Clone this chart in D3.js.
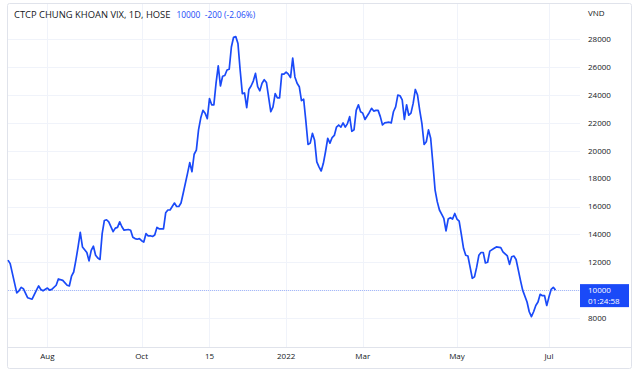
<!DOCTYPE html>
<html>
<head>
<meta charset="utf-8">
<style>
  body { margin: 0; background: #fff; }
  svg text { font-family: "Open Sans", "Liberation Sans", sans-serif; }
  .grid line { stroke: #f0f3fa; stroke-width: 1; }
  .axis-label { fill: #131722; font-size: 8px; }
</style>
</head>
<body>
<script src="https://cdn.jsdelivr.net/npm/d3@7"></script>
<script>
  // trading-day index (0 = first bar, early Jul 2021) and close price, VND
  var dayIdx = [0, 1, 2, 4, 5, 6, 7, 9, 10, 11, 13, 14, 15, 16, 18, 19, 20, 22, 23, 25,
    27, 28, 29, 30, 31, 32, 33, 34, 36, 37, 38, 39, 40, 41, 42, 43, 44, 45, 46, 48,
    49, 50, 51, 52, 53, 55, 56, 57, 58, 59, 60, 61, 62, 63, 64, 65, 66, 67, 68, 69,
    71, 72, 73, 74, 76, 77, 78, 79, 80, 82, 83, 84, 85, 86, 87, 88, 89, 90, 91, 92,
    93, 94, 95, 96, 97, 98, 99, 100, 101, 102, 103, 104, 105, 106, 107, 108, 109, 110, 111, 112,
    113, 114, 115, 116, 117, 118, 120, 121, 122, 123, 124, 125, 126, 127, 128, 129, 130, 131, 132, 133,
    134, 135, 136, 137, 138, 139, 140, 141, 142, 143, 144, 145, 146, 147, 148, 149, 150, 151, 152, 153,
    154, 155, 156, 157, 158, 159, 160, 161, 162, 163, 165, 166, 167, 168, 169, 170, 171, 172, 174, 175,
    176, 177, 178, 179, 180, 181, 182, 183, 184, 185, 186, 187, 188, 189, 190, 191, 192, 193, 194, 195,
    196, 197, 198, 199, 200, 201, 202, 203, 204, 205, 206, 207, 208, 209, 210, 211, 212, 213, 214, 215,
    216, 217, 218, 219, 220, 222, 223, 225, 226, 228, 229, 230, 231, 232, 233, 234, 235, 237, 238, 239,
    240, 241, 242, 243, 244, 245, 246, 247, 248, 249, 250];
  var price = [12150, 11900, 11200, 9800, 9950, 10200, 10100, 9450, 9400, 9350, 10000, 10300, 10050, 9950, 10150, 10000, 10050, 10350, 10800, 10700,
    10350, 10300, 11000, 11300, 12150, 13100, 14150, 13100, 12700, 12100, 12850, 13150, 12500, 12300, 12200, 14050, 15000, 15050, 14900, 14200,
    14450, 14500, 14900, 14550, 14300, 14350, 14300, 13800, 13700, 13650, 13700, 13550, 13450, 14050, 13900, 13900, 13850, 13950, 14500, 14400,
    14400, 15550, 15750, 15750, 16250, 16000, 16000, 16250, 16950, 18400, 19150, 18500, 19750, 20050, 21500, 22350, 22900, 22700, 22300, 23750,
    23300, 23300, 24850, 26100, 24650, 25350, 25400, 25800, 25850, 27450, 28150, 28200, 27700, 25800, 24100, 24150, 23100, 24400, 24650, 25000,
    25550, 24600, 24300, 24850, 25100, 24900, 22800, 23150, 24100, 23800, 23800, 25500, 25500, 25650, 25500, 25250, 26650, 25300, 24850, 24600,
    23600, 23700, 22150, 20450, 20550, 21250, 20750, 19200, 18850, 18550, 19100, 19950, 20900, 20550, 20950, 21100, 21700, 21850, 21700, 22000,
    21700, 21950, 22450, 21400, 21500, 22900, 23300, 22800, 22700, 22250, 22750, 23050, 22850, 22900, 22900, 22450, 21850, 22000, 22050, 22000,
    22800, 23150, 24000, 23950, 23650, 22250, 23300, 22550, 22700, 23400, 24400, 24000, 22900, 21950, 20450, 20650, 21500, 20900, 19100, 17200,
    16350, 15750, 15450, 15150, 14250, 15100, 15200, 15100, 15500, 15100, 14950, 14000, 13000, 12500, 12450, 11650, 10850, 10950, 11650, 12500,
    12700, 12700, 11950, 12000, 12800, 13000, 13100, 13050, 12750, 12450, 11850, 12400, 12450, 12200, 11450, 10700, 10000, 9150, 8450, 8100,
    8450, 8900, 9150, 9700, 9600, 9600, 8900, 9500, 10050, 10200, 10000];

  var xTickIdx = [18, 61, 92, 127, 162, 205, 247];
  var xTickLabels = ["Aug", "Oct", "15", "2022", "Mar", "May", "Jul"];
  var yTicks = [8000, 10000, 12000, 14000, 16000, 18000, 20000, 22000, 24000, 26000, 28000];

  var title = "CTCP CHUNG KHOAN VIX, 1D, HOSE";
  var lastInfo = "10000\u00a0\u00a0-200 (-2.06%)";
  var lastPrice = 10000;
  var countdown = "01:24:58";

  var width = 639, height = 375;
  var plot = { left: 7, top: 3, right: 580, bottom: 347 };
  var blue = "#1a4af8";

  var svg = d3.select("body").append("svg")
      .attr("width", width)
      .attr("height", height);

  var x = d3.scaleLinear().domain([0, 261]).range([8, 579.6]);
  var y = d3.scaleLinear().domain([8000, 28000]).range([318, 39.3]);

  // frame
  svg.append("rect")
      .attr("x", 7.5).attr("y", 3.5)
      .attr("width", 624).attr("height", 365)
      .attr("rx", 2)
      .attr("fill", "#fff")
      .attr("stroke", "#e0e3eb");

  var grid = svg.append("g").attr("class", "grid");
  grid.selectAll(".h").data(yTicks).enter().append("line")
      .attr("x1", plot.left + 1).attr("x2", plot.right)
      .attr("y1", function(d) { return Math.round(y(d)) + 0.5; })
      .attr("y2", function(d) { return Math.round(y(d)) + 0.5; });
  grid.selectAll(".v").data(xTickIdx).enter().append("line")
      .attr("y1", plot.top + 1).attr("y2", plot.bottom)
      .attr("x1", function(d) { return Math.round(x(d)) + 0.5; })
      .attr("x2", function(d) { return Math.round(x(d)) + 0.5; });

  // time axis separator
  svg.append("line")
      .attr("x1", plot.left).attr("x2", 632)
      .attr("y1", plot.bottom + 0.5).attr("y2", plot.bottom + 0.5)
      .attr("stroke", "#e0e3eb");

  // last price dotted line
  svg.append("line")
      .attr("x1", plot.left + 1).attr("x2", plot.right)
      .attr("y1", Math.round(y(lastPrice)) + 0.5).attr("y2", Math.round(y(lastPrice)) + 0.5)
      .attr("stroke", blue)
      .attr("stroke-opacity", 0.35)
      .attr("stroke-dasharray", "1,1");

  var pts = dayIdx.map(function(d, i) { return [d, price[i]]; });
  var line = d3.line()
      .x(function(d) { return x(d[0]); })
      .y(function(d) { return y(d[1]); });

  svg.append("path")
      .datum(pts)
      .attr("d", line)
      .attr("fill", "none")
      .attr("stroke", blue)
      .attr("stroke-width", 1.7)
      .attr("stroke-linejoin", "round");

  // price axis (right)
  var yAxis = svg.append("g");
  yAxis.selectAll("text").data(yTicks.filter(function(d) { return d !== lastPrice; }))
      .enter().append("text")
      .attr("class", "axis-label")
      .attr("x", 588)
      .attr("y", function(d) { return y(d); })
      .attr("dy", "0.35em")
      .text(function(d) { return d; });

  svg.append("text")
      .attr("class", "axis-label")
      .attr("x", 588).attr("y", 13)
      .attr("dy", "0.35em")
      .text("VND");

  // last price label
  var ly = y(lastPrice);
  svg.append("rect")
      .attr("x", 580).attr("y", ly - 6)
      .attr("width", 49).attr("height", 23)
      .attr("fill", blue);
  svg.append("text")
      .attr("class", "axis-label")
      .attr("x", 588).attr("y", ly)
      .attr("dy", "0.35em")
      .style("fill", "#fff")
      .text(lastPrice);
  svg.append("text")
      .attr("class", "axis-label")
      .attr("x", 588).attr("y", ly + 11)
      .attr("dy", "0.35em")
      .style("fill", "#fff")
      .text(countdown);

  // time axis
  svg.append("g").selectAll("text").data(xTickIdx).enter().append("text")
      .attr("class", "axis-label")
      .attr("x", function(d) { return x(d); })
      .attr("y", 356)
      .attr("dy", "0.35em")
      .attr("text-anchor", "middle")
      .text(function(d, i) { return xTickLabels[i]; });

  // legend
  var legend = svg.append("text")
      .attr("x", 14).attr("y", 15)
      .attr("dy", "0.35em")
      .style("font-size", "9.4px");
  legend.append("tspan").attr("fill", "#131722").text(title);
  legend.append("tspan").attr("fill", blue).attr("dx", 6)
      .style("font-size", "8.4px").text(lastInfo);
</script>
</body>
</html>
